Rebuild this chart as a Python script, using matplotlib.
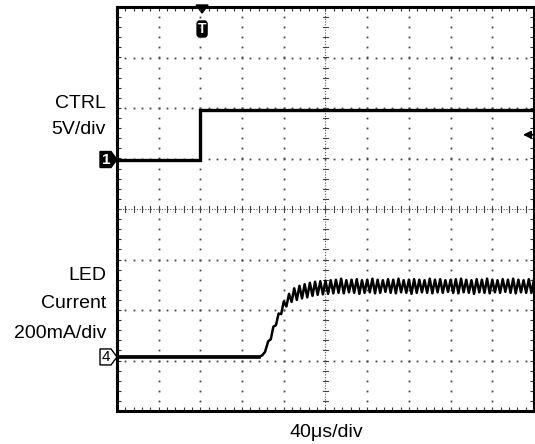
#!/usr/bin/env python3
import numpy as np
import matplotlib
matplotlib.use("Agg")
import matplotlib.pyplot as plt
from matplotlib.patches import Polygon, FancyBboxPatch

plt.rcParams['font.family'] = ['Liberation Sans', 'DejaVu Sans']

# screen is 10 x 8 divisions, values below are in divisions
ctrl_t = [-5.0, -3.0, -3.0, 5.0]
ctrl_v = [0.98, 0.98, 1.96, 1.96]

# LED current: flat baseline, then the rise (with ripple creeping in)
led_rise_t = [-5.0, -1.60, -1.52, -1.45, -1.375, -1.3125, -1.25, -1.1875, -1.125,
              -1.0625, -1.0, -0.9375, -0.875, -0.8125, -0.75]
led_rise_v = [-2.93, -2.93, -2.90, -2.83, -2.62, -2.58, -2.33, -2.30, -2.07,
              -2.08, -1.83, -1.93, -1.68, -1.84, -1.57]

# ripple on the plateau: troughs then peaks, one pair every 0.125 div
ripple_start = -0.6875
ripple_step = 0.125
led_troughs = [-1.80, -1.77, -1.75, -1.72, -1.70, -1.69, -1.68, -1.67, -1.66, -1.67,
               -1.65, -1.66, -1.68, -1.66, -1.65, -1.67, -1.66, -1.64, -1.66, -1.67,
               -1.65, -1.66, -1.68, -1.66, -1.65, -1.66, -1.67, -1.65, -1.66, -1.64,
               -1.66, -1.67, -1.65, -1.66, -1.68, -1.65, -1.66, -1.67, -1.65, -1.66,
               -1.64, -1.66, -1.67, -1.65, -1.66, -1.66]
led_peaks = [-1.52, -1.49, -1.46, -1.44, -1.43, -1.42, -1.41, -1.40, -1.38, -1.41,
             -1.40, -1.39, -1.41, -1.40, -1.38, -1.40, -1.41, -1.39, -1.40, -1.38,
             -1.41, -1.40, -1.39, -1.40, -1.41, -1.38, -1.40, -1.39, -1.41, -1.40,
             -1.39, -1.38, -1.40, -1.41, -1.39, -1.40, -1.38, -1.40, -1.41, -1.39,
             -1.40, -1.38, -1.40, -1.41, -1.39, -1.40]

trig_t = -2.96
trig_level = 1.47
ch1_level = 0.98
ch4_level = -2.93


def main():
    fig = plt.figure(figsize=(5.35, 4.44), dpi=100)
    ax = fig.add_axes([117/535, 33/444, 417/535, 404/444])
    ax.set_xlim(-5, 5)
    ax.set_ylim(-4, 4)

    # graticule: dotted lines made of small dots
    minor_x = np.arange(-5, 5.001, 0.2)
    minor_y = np.arange(-4, 4.001, 0.2)
    for gx in range(-4, 5):
        if gx == 0:
            continue
        ax.plot(np.full_like(minor_y, gx), minor_y, ls='none', marker='s',
                ms=1.3, mew=0, color='#444444')
    for gy in range(-3, 4):
        if gy == 0:
            continue
        ax.plot(minor_x, np.full_like(minor_x, gy), ls='none', marker='s',
                ms=1.3, mew=0, color='#444444')
    # centre cross with ticks
    ax.axhline(0, color='#555555', lw=0.8, ls=(0, (1, 1.5)))
    ax.axvline(0, color='#555555', lw=0.8, ls=(0, (1, 1.5)))
    for mx in minor_x:
        ax.plot([mx, mx], [-0.05, 0.05], color='#444444', lw=0.8)
    for my in minor_y:
        ax.plot([-0.06, 0.06], [my, my], color='#444444', lw=0.8)

    ax.set_xticks(minor_x)
    ax.set_yticks(minor_y)
    ax.tick_params(direction='in', length=3, width=0.8, top=True, right=True,
                   labelbottom=False, labelleft=False, color='#333333')
    for sp in ax.spines.values():
        sp.set_linewidth(2.2)

    # traces
    ax.plot(ctrl_t, ctrl_v, color='black', lw=2.4, solid_joinstyle='miter')

    rip_t = []
    rip_v = []
    for k in range(len(led_troughs)):
        rip_t.append(ripple_start + ripple_step * k)
        rip_v.append(led_troughs[k])
        rip_t.append(ripple_start + ripple_step * k + ripple_step / 2)
        rip_v.append(led_peaks[k])
    ax.plot(led_rise_t[:2], led_rise_v[:2], color='black', lw=2.6)
    ax.plot(led_rise_t + rip_t, led_rise_v + rip_v, color='black', lw=1.8)

    # channel markers
    px = 1 / 41.7
    py = 1 / 50.5
    x0 = -5 - 17 * px
    ch1 = Polygon([[x0, ch1_level + 8 * py], [-5 - 6 * px, ch1_level + 8 * py],
                   [-5, ch1_level], [-5 - 6 * px, ch1_level - 8 * py],
                   [x0, ch1_level - 8 * py]], closed=True, fc='black', ec='black',
                  clip_on=False)
    ax.add_patch(ch1)
    ax.text(x0 + 6 * px, ch1_level, '1', color='white', fontsize=11, fontweight='bold',
            ha='center', va='center', clip_on=False)

    ch4 = Polygon([[x0, ch4_level + 8 * py], [-5 - 6 * px, ch4_level + 8 * py],
                   [-5, ch4_level], [-5 - 6 * px, ch4_level - 8 * py],
                   [x0, ch4_level - 8 * py]], closed=True, fc='white', ec='black',
                  lw=1.0, clip_on=False)
    ax.add_patch(ch4)
    ax.text(x0 + 6 * px, ch4_level, '4', color='black', fontsize=11,
            ha='center', va='center', clip_on=False)

    # trigger position marker
    tri = Polygon([[trig_t - 6 * px, 4 + 2 * py], [trig_t + 6 * px, 4 + 2 * py],
                   [trig_t, 4 - 6 * py]], closed=True, fc='black', ec='black',
                  clip_on=False)
    ax.add_patch(tri)
    tbox = FancyBboxPatch((trig_t - 5 * px, 4 - 30 * py), 10 * px, 16 * py,
                          boxstyle='round,pad=0,rounding_size=0.06',
                          fc='black', ec='black')
    ax.add_patch(tbox)
    ax.text(trig_t, 4 - 22 * py, 'T', color='white', fontsize=10, fontweight='bold',
            ha='center', va='center')

    # trigger level arrow
    ax.annotate('', xy=(5 - 11 * px, trig_level), xytext=(5 - 1 * px, trig_level),
                arrowprops=dict(arrowstyle='-|>', color='black', lw=1.3,
                                mutation_scale=11, shrinkA=0, shrinkB=0))

    # labels
    lab = dict(fontsize=14, ha='right', va='center')
    fig.text(106/535, 1 - 103/444, 'CTRL', **lab)
    fig.text(106/535, 1 - 129/444, '5V/div', **lab)
    fig.text(106/535, 1 - 276/444, 'LED', **lab)
    fig.text(106/535, 1 - 304/444, 'Current', **lab)
    fig.text(106/535, 1 - 333/444, '200mA/div', **lab)
    fig.text(326/535, 1 - 432/444, '40\u03bcs/div', fontsize=14, ha='center', va='center')

    fig.savefig('out.png', dpi=100)


if __name__ == '__main__':
    main()
